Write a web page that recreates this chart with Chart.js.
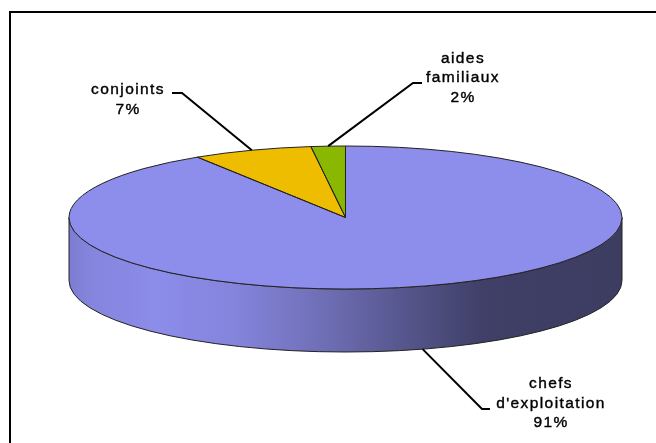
<!DOCTYPE html>
<html>
<head>
<meta charset="utf-8">
<style>
html, body { margin: 0; padding: 0; background: #fff; overflow: hidden; }
#wrap { position: relative; width: 656px; height: 443px; }
#frameTop { position: absolute; left: 9px; top: 11px; right: 0; height: 2px; background: #000; }
#frameLeft { position: absolute; left: 9px; top: 11px; bottom: 0; width: 2px; background: #000; }
canvas { position: absolute; left: 0; top: 0; filter: blur(0.35px); }
</style>
</head>
<body>
<div id="wrap">
    <canvas id="myChart" width="656" height="443"></canvas>
    <div id="frameTop"></div>
    <div id="frameLeft"></div>
</div>
<script src="https://cdn.jsdelivr.net/npm/chart.js@4/dist/chart.umd.min.js"></script>
<script>
var categories = [["chefs", "d'exploitation"], ["conjoints"], ["aides", "familiaux"]];
var values = [91, 7, 2];
var colors = ["#8d8deb", "#eebd00", "#8ab800"];

// the flattened disc
var cx = 345.5, cy = 217.5, rx = 276.5, ry = 71.5, depth = 63;

// label centre, first line y, and the two leader points next to the label
var labelPos = [
    {x: 551, y: 384, elbow: [482, 409], tail: [490, 409], wall: true},
    {x: 128, y: 90, elbow: [182, 93], tail: [172, 93]},
    {x: 463, y: 58.5, elbow: [413, 83], tail: [422, 83]}
];

function squash(ctx, arc) {
    ctx.translate(cx, cy);
    ctx.scale(rx / arc.outerRadius, ry / arc.outerRadius);
    ctx.translate(-arc.x, -arc.y);
}

var disc3d = {
    id: "disc3d",
    beforeDatasetsDraw: function(chart) {
        var ctx = chart.ctx;
        var arc = chart.getDatasetMeta(0).data[0];

        var grad = ctx.createLinearGradient(cx - rx, 0, cx + rx, 0);
        grad.addColorStop(0, "#7c7cd2");
        grad.addColorStop(0.04, "#8585dd");
        grad.addColorStop(0.16, "#8c8cea");
        grad.addColorStop(0.3, "#8484dc");
        grad.addColorStop(0.45, "#7070b8");
        grad.addColorStop(0.6, "#57578f");
        grad.addColorStop(0.75, "#3f3f67");
        grad.addColorStop(1, "#3d3d62");

        ctx.beginPath();
        ctx.ellipse(cx, cy, rx, ry, 0, 0, Math.PI);
        ctx.ellipse(cx, cy + depth, rx, ry, 0, Math.PI, 0, true);
        ctx.closePath();
        ctx.fillStyle = grad;
        ctx.fill();
        ctx.lineWidth = 1;
        ctx.strokeStyle = "#222";
        ctx.stroke();

        ctx.save();
        squash(ctx, arc);
    },
    afterDatasetsDraw: function(chart) {
        var ctx = chart.ctx;
        var meta = chart.getDatasetMeta(0);
        ctx.restore();

        meta.data.forEach(function(arc) {
            ctx.save();
            squash(ctx, arc);
            ctx.beginPath();
            ctx.moveTo(arc.x, arc.y);
            ctx.arc(arc.x, arc.y, arc.outerRadius, arc.startAngle, arc.endAngle);
            ctx.closePath();
            ctx.restore();
            ctx.lineWidth = 1;
            ctx.strokeStyle = "#222";
            ctx.stroke();
        });

        meta.data.forEach(function(arc, i) {
            var pos = labelPos[i];
            var mid = (arc.startAngle + arc.endAngle) / 2;
            var px = cx + rx * Math.cos(mid);
            var py = cy + ry * Math.sin(mid) + (pos.wall ? depth : 0);

            ctx.beginPath();
            ctx.moveTo(px, py);
            ctx.lineTo(pos.elbow[0], pos.elbow[1]);
            ctx.lineTo(pos.tail[0], pos.tail[1]);
            ctx.lineWidth = 2;
            ctx.strokeStyle = "#000";
            ctx.stroke();

            var lines = categories[i].concat(values[i] + "%");
            ctx.fillStyle = "#000";
            ctx.strokeStyle = "#000";
            ctx.lineWidth = 0.4;
            ctx.font = "15.5px 'Liberation Sans', Arial, sans-serif";
            ctx.letterSpacing = "1.4px";
            ctx.textAlign = "center";
            ctx.textBaseline = "middle";
            lines.forEach(function(txt, k) {
                ctx.fillText(txt, pos.x, pos.y + k * 19.5);
                ctx.strokeText(txt, pos.x, pos.y + k * 19.5);
            });
            ctx.letterSpacing = "0px";
        });
    }
};

var ctx = document.getElementById("myChart").getContext("2d");
var chart = new Chart(ctx, {
    type: "pie",
    data: {
        labels: categories.map(function(c) { return c.join(" "); }),
        datasets: [{
            data: values,
            backgroundColor: colors,
            borderWidth: 0
        }]
    },
    options: {
        responsive: false,
        animation: false,
        plugins: {
            legend: {display: false},
            tooltip: {enabled: false},
            title: {display: false}
        }
    },
    plugins: [disc3d]
});
</script>
</body>
</html>
